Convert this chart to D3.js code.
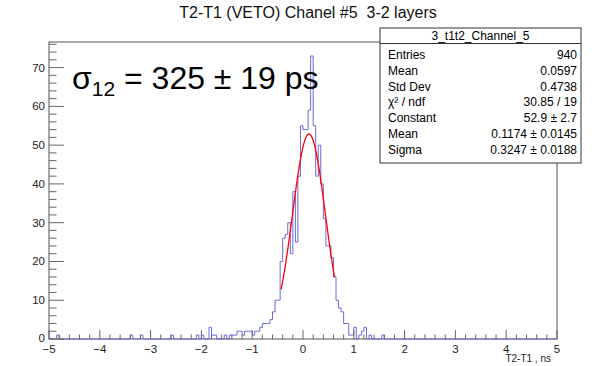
<!DOCTYPE html>
<html lang="en">
<head>
<meta charset="UTF-8">
<title>T2-T1 (VETO) Chanel #5</title>
<script src="https://cdn.jsdelivr.net/npm/d3@7"></script>
<style>
  body { margin: 0; background: #fff; }
  text { font-family: "Liberation Sans", Arial, sans-serif; }
</style>
</head>
<body>
<div id="chart"></div>
<script>
  const w = 610;
  const h = 366;

  // histogram: 200 bins from -5 to 5, only non-empty bins listed
  const xMin = -5, xMax = 5, nBins = 200;
  const binCenter = [-4.825, -3.375, -3.175, -2.575, -2.075, -1.975, -1.825, -1.775, -1.725, -1.525,
    -1.425, -1.375, -1.325, -1.275, -1.225, -1.175, -1.125, -1.075, -1.025, -0.975,
    -0.925, -0.875, -0.825, -0.775, -0.725, -0.675, -0.625, -0.575, -0.525, -0.475,
    -0.425, -0.375, -0.325, -0.275, -0.225, -0.175, -0.125, -0.075, -0.025, 0.025,
    0.075, 0.125, 0.175, 0.225, 0.275, 0.325, 0.375, 0.425, 0.475, 0.525,
    0.575, 0.625, 0.675, 0.725, 0.775, 0.825, 0.875, 0.925, 0.975, 1.025,
    1.125, 1.175, 1.225, 1.325, 1.575];
  const binCount = [1, 1, 1, 1, 1, 1, 3, 1, 1, 1,
    1, 1, 1, 2, 2, 1, 2, 2, 2, 1,
    2, 2, 3, 4, 4, 4, 5, 7, 10, 10,
    20, 26, 27, 30, 22, 38, 25, 42, 55, 54,
    54, 59, 73, 55, 42, 50, 40, 31, 24, 24,
    21, 16, 10, 8, 7, 4, 4, 1, 1, 3,
    1, 2, 3, 1, 1];

  // gaussian fit
  const fitParams = [52.9, 0.1174, 0.3247];   // constant, mean, sigma
  const fitRange = [-0.43, 0.62];

  const xTicks = [-5, -4, -3, -2, -1, 0, 1, 2, 3, 4, 5];
  const yTicks = [0, 10, 20, 30, 40, 50, 60, 70];

  const statLabels = ["Entries", "Mean", "Std Dev", "\u03c7\u00b2 / ndf", "Constant", "Mean", "Sigma"];
  const statValues = ["940", "0.0597", "0.4738", "30.85 / 19", "52.9 \u00b1 2.7", "0.1174 \u00b1 0.0145", "0.3247 \u00b1 0.0188"];

  const fLeft = 49, fRight = 557, fTop = 42, fBottom = 339;

  const svg = d3.select("#chart").append("svg")
    .attr("width", w)
    .attr("height", h);

  const x = d3.scaleLinear().domain([xMin, xMax]).range([fLeft, fRight]);
  const y = d3.scaleLinear().domain([0, 76.6]).range([fBottom, fTop]);

  // title
  svg.append("text")
    .attr("x", 308).attr("y", 18)
    .attr("text-anchor", "middle")
    .attr("font-size", 16)
    .attr("fill", "#111")
    .text("T2-T1 (VETO) Chanel #5\u00a0 3-2 layers");

  // frame
  svg.append("rect")
    .attr("x", fLeft).attr("y", fTop)
    .attr("width", fRight - fLeft).attr("height", fBottom - fTop)
    .attr("fill", "none")
    .attr("stroke", "#555")
    .attr("stroke-width", 1);

  // histogram outline
  const counts = new Array(nBins).fill(0);
  const bw = (xMax - xMin) / nBins;
  binCenter.forEach((c, i) => {
    const k = Math.floor((c - xMin) / bw);
    counts[k] = binCount[i];
  });
  const pts = [[x(xMin), y(0)]];
  counts.forEach((c, k) => {
    const lo = xMin + k * bw, hi = lo + bw;
    pts.push([x(lo), y(c)], [x(hi), y(c)]);
  });
  pts.push([x(xMax), y(0)]);
  svg.append("path")
    .attr("d", d3.line()(pts))
    .attr("fill", "none")
    .attr("stroke", "#6a6ae0")
    .attr("stroke-width", 1);

  // fit curve
  const gaus = t => fitParams[0] * Math.exp(-0.5 * ((t - fitParams[1]) / fitParams[2]) ** 2);
  const fx = d3.range(0, 101).map(i => fitRange[0] + (fitRange[1] - fitRange[0]) * i / 100);
  svg.append("path")
    .attr("d", d3.line().x(t => x(t)).y(t => y(gaus(t)))(fx))
    .attr("fill", "none")
    .attr("stroke", "#ff0000")
    .attr("stroke-width", 1.3);

  // x axis ticks (inside the frame)
  const xAxis = svg.append("g").attr("stroke", "#666").attr("stroke-width", 1);
  d3.range(0, 51).forEach(i => {
    const v = xMin + i * 0.2;
    const major = i % 5 === 0;
    xAxis.append("line")
      .attr("x1", x(v)).attr("x2", x(v))
      .attr("y1", fBottom).attr("y2", fBottom - (major ? 9 : 4.5));
  });
  svg.selectAll(".xlab").data(xTicks).enter().append("text")
    .attr("x", d => x(d)).attr("y", fBottom + 13.5)
    .attr("text-anchor", "middle")
    .attr("font-size", 11.5)
    .attr("fill", "#222")
    .text(d => d < 0 ? "\u2212" + Math.abs(d) : d);

  // y axis ticks
  const yAxis = svg.append("g").attr("stroke", "#666").attr("stroke-width", 1);
  for (let v = 0; v <= 76; v += 2) {
    const major = v % 10 === 0;
    yAxis.append("line")
      .attr("x1", fLeft).attr("x2", fLeft + (major ? 15 : 7.5))
      .attr("y1", y(v)).attr("y2", y(v));
  }
  svg.selectAll(".ylab").data(yTicks).enter().append("text")
    .attr("x", fLeft - 4).attr("y", d => y(d) + (d === 0 ? 2.5 : 4))
    .attr("text-anchor", "end")
    .attr("font-size", 11.5)
    .attr("fill", "#222")
    .text(d => d);

  svg.append("text")
    .attr("x", fRight - 6).attr("y", fBottom + 23)
    .attr("text-anchor", "end")
    .attr("font-size", 10)
    .attr("fill", "#222")
    .text("T2-T1 , ns");

  // sigma annotation
  const ann = svg.append("text")
    .attr("x", 72).attr("y", 89)
    .attr("font-family", "Lato, 'Open Sans', sans-serif")
    .attr("font-size", 32)
    .attr("fill", "#000");
  ann.append("tspan").text("\u03c3");
  ann.append("tspan").attr("dy", 7).attr("font-size", 21).text("12");
  ann.append("tspan").attr("dy", -7).text(" = 325 \u00b1 19 ps");

  // stats box
  const bx = 380, by = 28, bW = 201, bH = 135;
  const stats = svg.append("g");
  stats.append("rect")
    .attr("x", bx).attr("y", by).attr("width", bW).attr("height", bH)
    .attr("fill", "#fff").attr("stroke", "#333").attr("stroke-width", 1);
  stats.append("line")
    .attr("x1", bx).attr("x2", bx + bW)
    .attr("y1", by + 15.5).attr("y2", by + 15.5)
    .attr("stroke", "#333");
  stats.append("text")
    .attr("x", bx + bW / 2).attr("y", by + 12)
    .attr("text-anchor", "middle")
    .attr("font-size", 12)
    .text("3_t1t2_Channel_5");
  statLabels.forEach((s, i) => {
    const ty = by + 31 + i * 15.8;
    stats.append("text")
      .attr("x", bx + 8).attr("y", ty)
      .attr("font-size", 12)
      .text(s);
    stats.append("text")
      .attr("x", bx + bW - 4).attr("y", ty)
      .attr("text-anchor", "end")
      .attr("font-size", 12)
      .text(statValues[i]);
  });
</script>
</body>
</html>
